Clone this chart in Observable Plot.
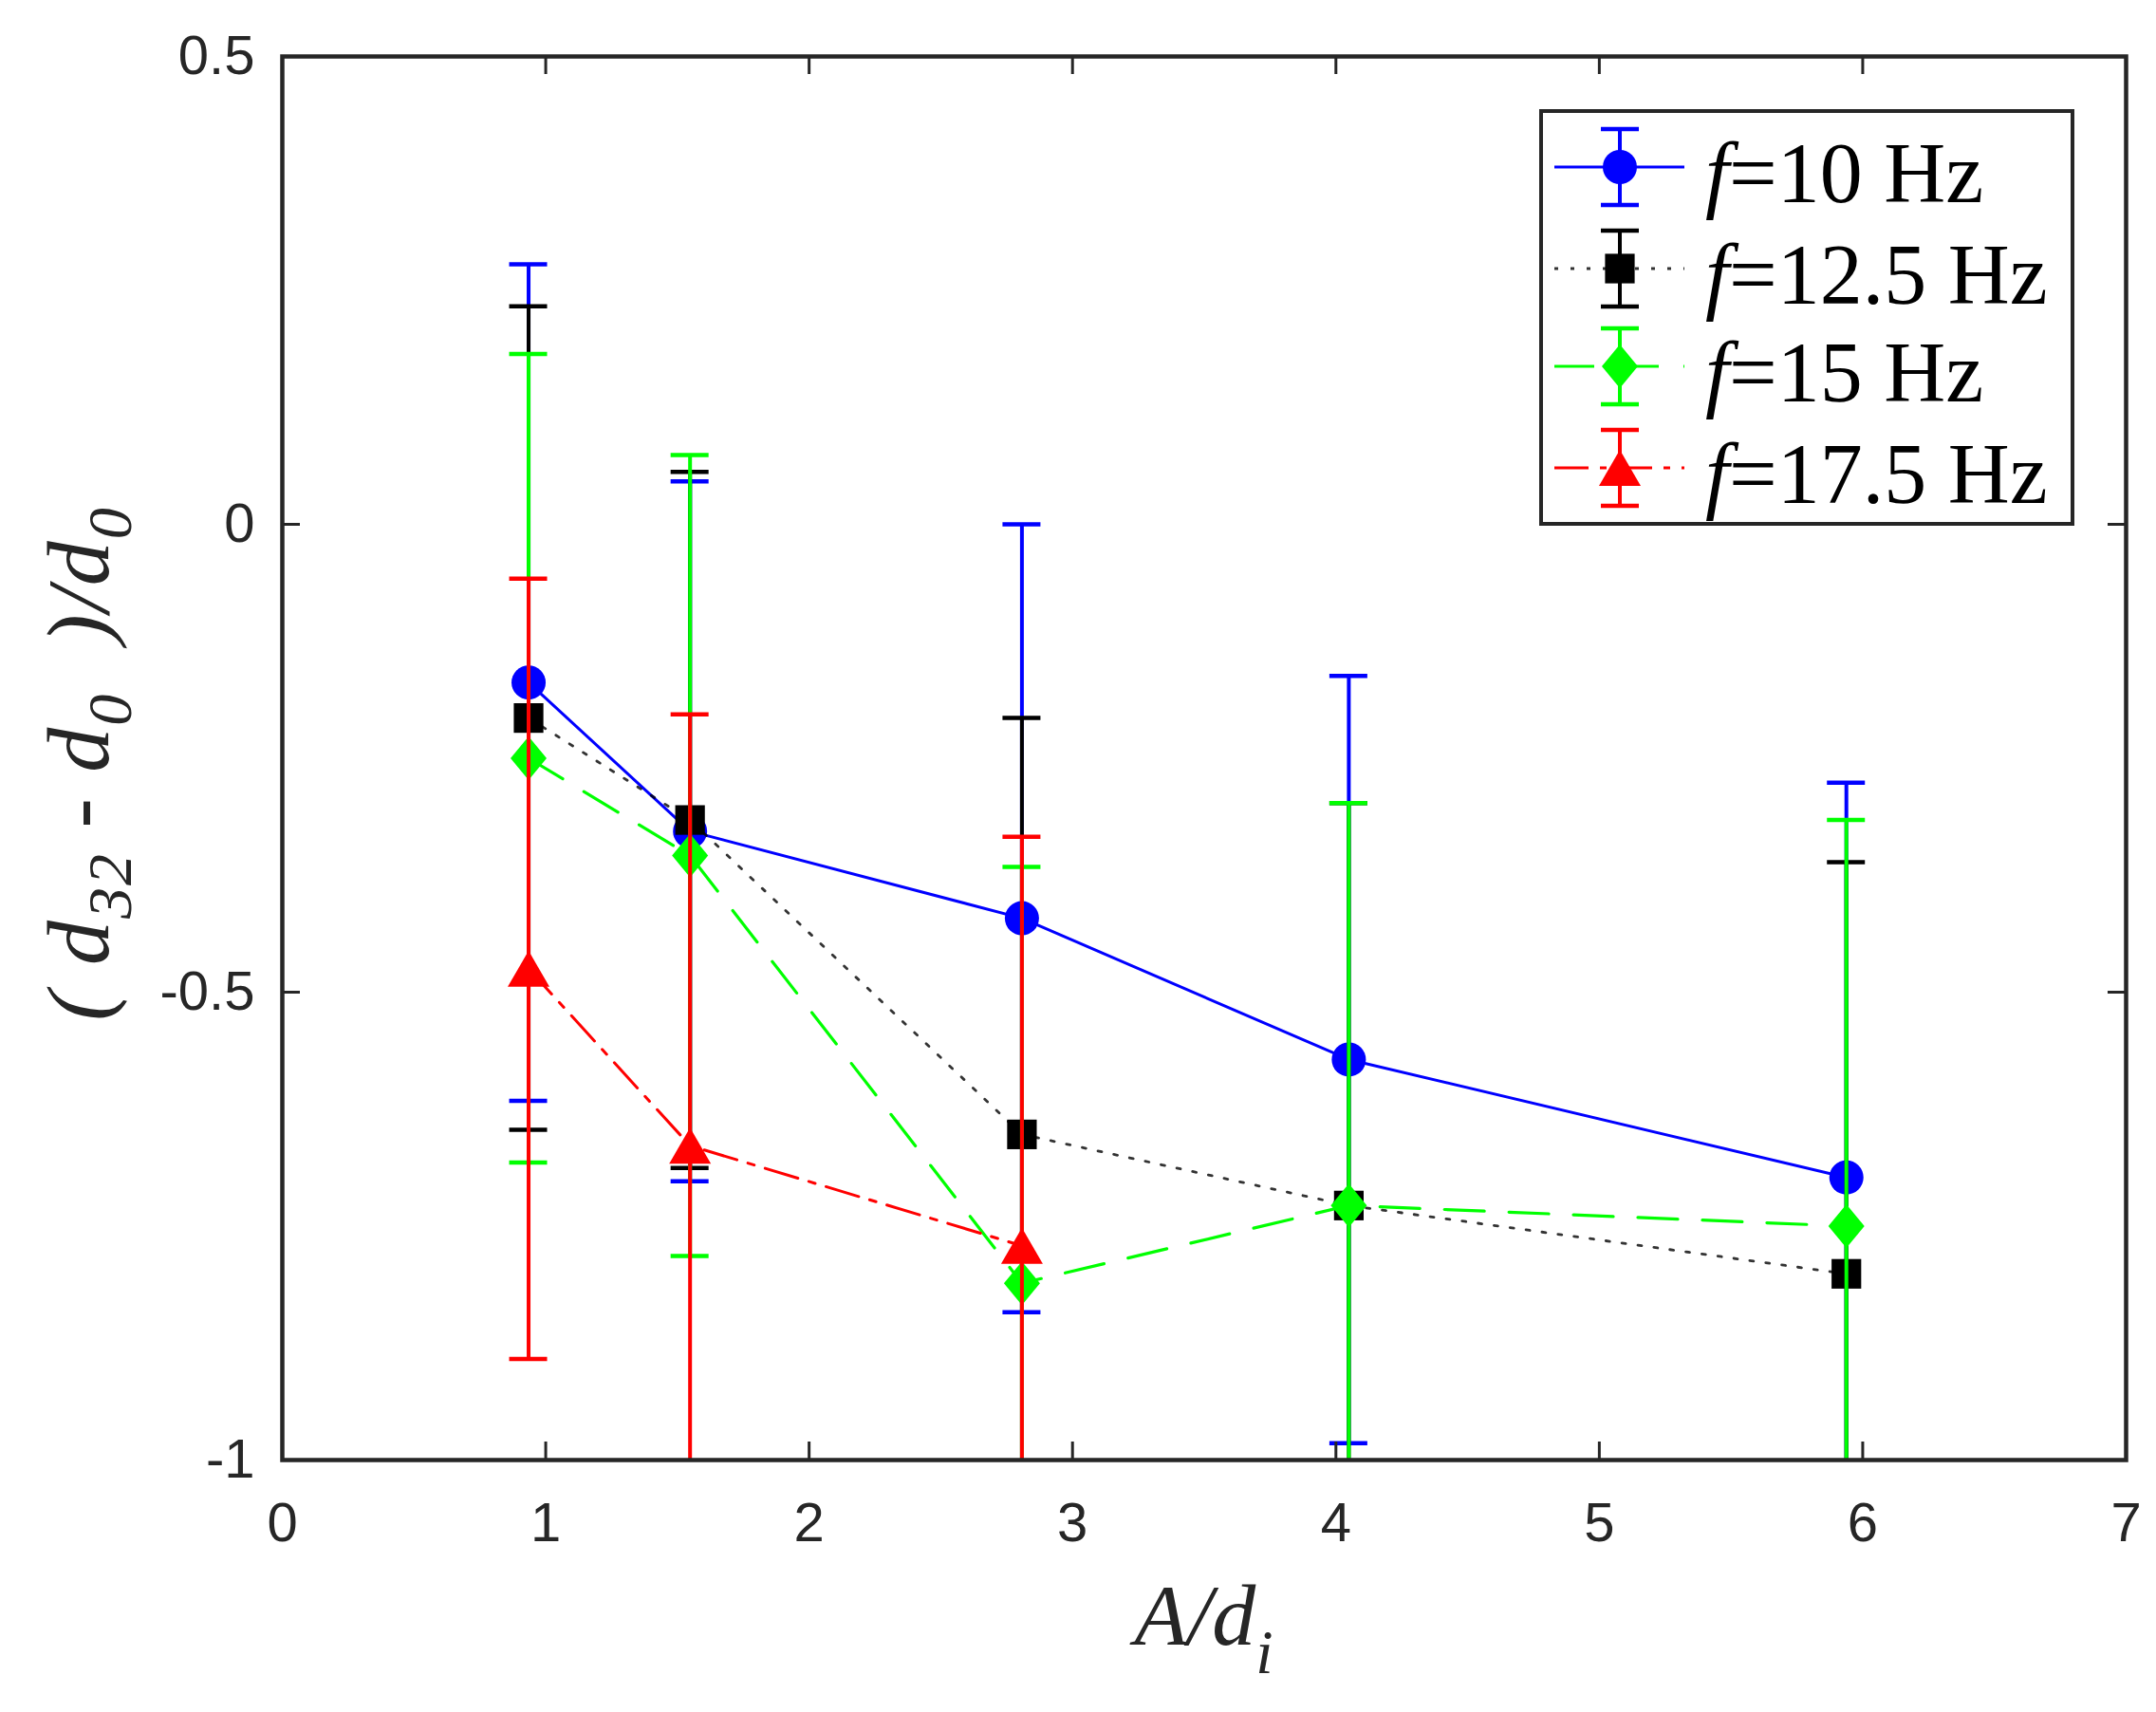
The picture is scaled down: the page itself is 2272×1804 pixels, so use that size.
<!DOCTYPE html>
<html>
<head>
<meta charset="utf-8">
<script src="https://cdn.jsdelivr.net/npm/d3@7"></script>
<script src="https://cdn.jsdelivr.net/npm/@observablehq/plot@0.6"></script>
<style>
  html, body { margin: 0; padding: 0; background: #fff; }
  #chart { width: 2272px; height: 1804px; }
</style>
</head>
<body>
<div id="chart"></div>
<script>
// ---------------- data ----------------
const xVals = [0.935, 1.548, 2.808, 4.049, 5.938];           // A/d_i
const seriesLabels = ["10 Hz", "12.5 Hz", "15 Hz", "17.5 Hz"];
const y10  = [-0.169, -0.328, -0.421, -0.572, -0.698];
const e10  = [0.447, 0.374, 0.421, 0.410, 0.422];
const y125 = [-0.207, -0.316, -0.652, -0.728, -0.801];
const e125 = [0.440, 0.372, 0.445, 0.430, 0.440];
const y15  = [-0.250, -0.354, -0.811, -0.728, -0.750];
const e15  = [0.432, 0.428, 0.445, 0.430, 0.434];
const y175 = [-0.475, -0.664, -0.771];
const e175 = [0.417, 0.461, 0.437];
const xTicks = [0, 1, 2, 3, 4, 5, 6, 7];
const yTicks = [-1, -0.5, 0, 0.5];
const xDomain = [0, 7];
const yDomain = [-1, 0.5];

// ---------------- symbols ----------------
const symCircle = {draw(ctx, size) { const r = Math.sqrt(size / Math.PI) * 0.9; ctx.moveTo(r, 0); ctx.arc(0, 0, r, 0, 2 * Math.PI); ctx.closePath(); }};
const symSquare = {draw(ctx, size) { const h = Math.sqrt(size / Math.PI) * 0.78; ctx.moveTo(-h, -h); ctx.lineTo(h, -h); ctx.lineTo(h, h); ctx.lineTo(-h, h); ctx.closePath(); }};
const symDiamond = {draw(ctx, size) { const s = Math.sqrt(size / Math.PI); const w = s * 0.95, h = s * 1.15; ctx.moveTo(0, -h); ctx.lineTo(w, 0); ctx.lineTo(0, h); ctx.lineTo(-w, 0); ctx.closePath(); }};
const symTriangle = {draw(ctx, size) { const s = Math.sqrt(size / Math.PI); const w = s * 1.1, h = s * 0.95; ctx.moveTo(0, -h); ctx.lineTo(w, h); ctx.lineTo(-w, h); ctx.closePath(); }};

const series = [
  {label: seriesLabels[0], y: y10,  e: e10,  color: "#0000ff", dash: null,         width: 3.0, opacity: 1,    symbol: symCircle},
  {label: seriesLabels[1], y: y125, e: e125, color: "#000000", dash: "4,13",       width: 2.8, opacity: 0.8,  symbol: symSquare},
  {label: seriesLabels[2], y: y15,  e: e15,  color: "#00ff00", dash: "42,26",      width: 3.2, opacity: 1,    symbol: symDiamond},
  {label: seriesLabels[3], y: y175, e: e175, color: "#ff0000", dash: "36,12,7,12", width: 3.0, opacity: 1,    symbol: symTriangle}
];

const rows = series.map(s => s.y.map((v, i) => ({series: s.label, x: xVals[i], y: v, lo: v - s.e[i], hi: v + s.e[i]})));

// ---------------- layout ----------------
const W = 2272, H = 1804, mL = 297, mT = 59, mR = 32, mB = 266;
const plotW = W - mL - mR, plotH = H - mT - mB;
const axisColor = "#262626";
const tickLen = 19;
const R = 20;

const marks = [];
series.forEach((s, k) => {
  const d = rows[k];
  const inRange = v => v >= yDomain[0] && v <= yDomain[1];
  marks.push(Plot.ruleX(d, {x: "x", y1: r => Math.max(r.lo, yDomain[0]), y2: r => Math.min(r.hi, yDomain[1]), stroke: s.color, strokeWidth: 4, clip: true}));
  marks.push(Plot.ruleY(d.filter(r => inRange(r.hi)), {y: "hi", x1: "x", x2: "x", insetLeft: -20, insetRight: -20, stroke: s.color, strokeWidth: 4.5}));
  marks.push(Plot.ruleY(d.filter(r => inRange(r.lo)), {y: "lo", x1: "x", x2: "x", insetLeft: -20, insetRight: -20, stroke: s.color, strokeWidth: 4.5}));
  marks.push(Plot.line(d, {x: "x", y: "y", stroke: s.color, strokeWidth: s.width, strokeDasharray: s.dash, strokeOpacity: s.opacity}));
  marks.push(Plot.dot(d, {x: "x", y: "y", r: R, symbol: s.symbol, fill: s.color, stroke: "none"}));
});

const chart = Plot.plot({
  width: W, height: H,
  marginLeft: mL, marginTop: mT, marginRight: mR, marginBottom: mB,
  style: {fontFamily: "'Liberation Sans', Arial, sans-serif", fontSize: "58px", color: axisColor, background: "#fff", overflow: "visible"},
  x: {domain: xDomain, label: null},
  y: {domain: yDomain, label: null},
  marks: [
    ...marks,
    Plot.tickX(xTicks, {x: d => d, insetTop: plotH - tickLen, stroke: axisColor, strokeWidth: 3}),
    Plot.tickX(xTicks, {x: d => d, insetBottom: plotH - tickLen, stroke: axisColor, strokeWidth: 3}),
    Plot.tickY(yTicks, {y: d => d, insetRight: plotW - tickLen, stroke: axisColor, strokeWidth: 3}),
    Plot.tickY(yTicks, {y: d => d, insetLeft: plotW - tickLen, stroke: axisColor, strokeWidth: 3}),
    Plot.axisX({ticks: xTicks, tickSize: 0, tickPadding: 44, label: null, tickFormat: d => String(d)}),
    Plot.axisY({ticks: yTicks, tickSize: 0, tickPadding: 29, label: null, tickFormat: d => String(d)}),
    Plot.frame({stroke: axisColor, strokeWidth: 4.5})
  ]
});
document.getElementById("chart").appendChild(chart);

// ---------------- axis labels ----------------
const svg = d3.select(chart);
const serif = "'Liberation Serif', 'Times New Roman', serif";

const yl = svg.append("text")
  .attr("transform", `translate(114,${mT + plotH / 2 + 6}) rotate(-90)`)
  .attr("text-anchor", "middle")
  .attr("fill", axisColor)
  .style("letter-spacing", "2px")
  .style("font-family", serif).style("font-style", "italic").style("font-size", "94px");
const sub = 24;
yl.append("tspan").text("( d");
yl.append("tspan").attr("dy", sub).style("font-size", "66px").text("32");
yl.append("tspan").attr("dy", -sub).text(" - d");
yl.append("tspan").attr("dy", sub).style("font-size", "66px").text("0");
yl.append("tspan").attr("dy", -sub).text("  )/d");
yl.append("tspan").attr("dy", sub).style("font-size", "66px").text("0");

const xl = svg.append("text")
  .attr("x", mL + plotW / 2).attr("y", 1733)
  .attr("text-anchor", "middle")
  .attr("fill", axisColor)
  .style("font-family", serif).style("font-style", "italic").style("font-size", "92px");
xl.append("tspan").text("A/d");
xl.append("tspan").attr("dy", sub + 6).style("font-size", "66px").text("i");

// ---------------- legend ----------------
const lg = svg.append("g");
lg.append("rect").attr("x", 1624).attr("y", 117).attr("width", 560).attr("height", 435)
  .attr("fill", "#fff").attr("stroke", axisColor).attr("stroke-width", 4);
const rowC = [176, 283, 386, 493];
series.forEach((s, k) => {
  const cy = rowC[k];
  const g = lg.append("g");
  g.append("line").attr("x1", 1638).attr("x2", 1775).attr("y1", cy).attr("y2", cy)
    .attr("stroke", s.color).attr("stroke-width", s.width)
    .attr("stroke-dasharray", s.dash).attr("stroke-opacity", s.opacity);
  g.append("line").attr("x1", 1707).attr("x2", 1707).attr("y1", cy - 40).attr("y2", cy + 40)
    .attr("stroke", s.color).attr("stroke-width", 4);
  [cy - 40, cy + 40].forEach(yy => g.append("line").attr("x1", 1687).attr("x2", 1727).attr("y1", yy).attr("y2", yy)
    .attr("stroke", s.color).attr("stroke-width", 4.5));
  g.append("path").attr("transform", `translate(1707,${cy})`)
    .attr("d", d3.symbol(s.symbol, Math.PI * R * R)()).attr("fill", s.color);
  const t = g.append("text").attr("x", 1797).attr("y", cy + 37).attr("fill", "#000")
    .attr("text-anchor", "start")
    .style("font-family", serif).style("font-size", "90px");
  t.append("tspan").style("font-style", "italic").text("f");
  t.append("tspan").text("=" + s.label);
});
</script>
</body>
</html>
